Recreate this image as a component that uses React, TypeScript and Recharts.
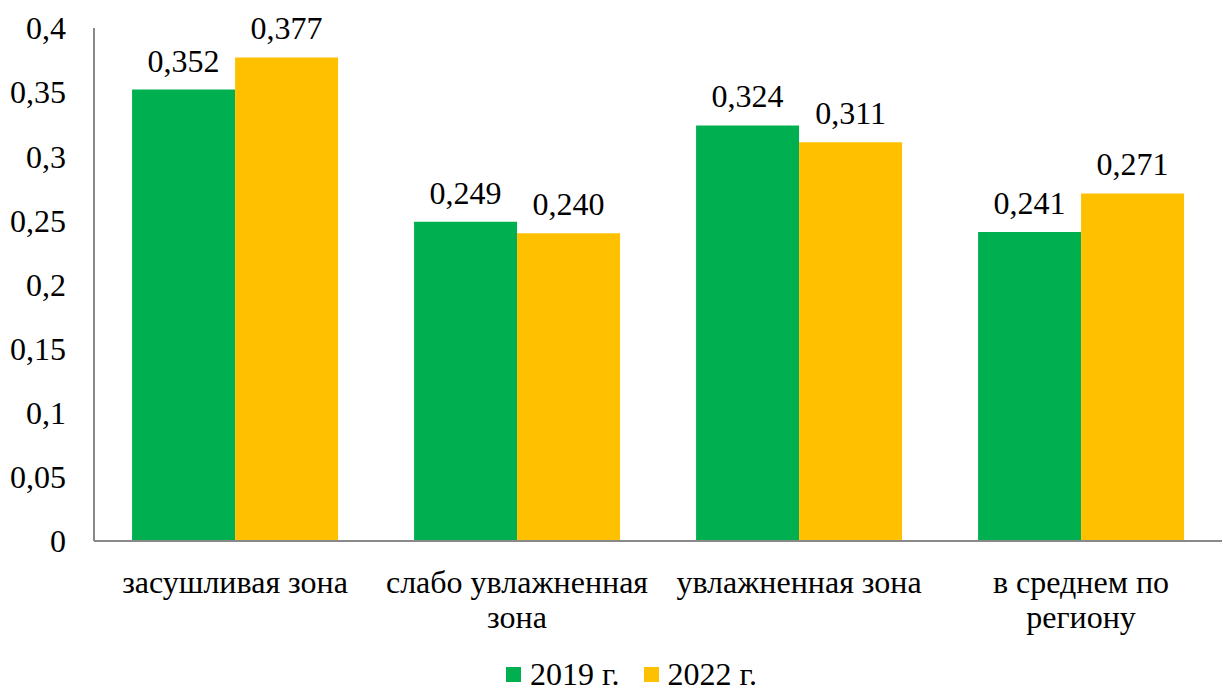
import React from 'react';
import { BarChart, Bar, XAxis, YAxis, Legend, LabelList } from 'recharts';

const categories = ['засушливая зона', 'слабо увлажненная\nзона', 'увлажненная зона', 'в среднем по\nрегиону'];
const values2019 = [0.352, 0.249, 0.324, 0.241];
const values2022 = [0.377, 0.24, 0.311, 0.271];
const yTicks = [0, 0.05, 0.1, 0.15, 0.2, 0.25, 0.3, 0.35, 0.4];

const data = categories.map((name, i) => ({ name, y2019: values2019[i], y2022: values2022[i] }));

const GREEN = '#00B050';
const YELLOW = '#FFC000';
const FONT = 'Liberation Serif, DejaVu Serif, serif';

const fmtTick = (v: number) => String(v).replace('.', ',');
const fmtLabel = (v: any) => Number(v).toFixed(3).replace('.', ',');

const CategoryTick = (props: any) => {
  const { x, y, payload } = props;
  const lines = String(payload.value).split('\n');
  return (
    <g transform={`translate(${x},${y})`}>
      {lines.map((line, i) => (
        <text key={i} x={0} y={44 + i * 35} textAnchor="middle" style={{ fontFamily: FONT, fontSize: 32 }} fill="#000">
          {line}
        </text>
      ))}
    </g>
  );
};

const LegendContent = () => (
  <div style={{ display: 'flex', justifyContent: 'center', fontFamily: FONT, fontSize: 32, lineHeight: '28px', height: 28, color: '#000', transform: 'translateX(20px)' }}>
    {[['2019 г.', GREEN], ['2022 г.', YELLOW]].map(([label, color]) => (
      <div key={label} style={{ display: 'flex', alignItems: 'center', margin: '0 12px' }}>
        <span style={{ display: 'inline-block', width: 15, height: 15, background: color, marginRight: 9 }} />
        <span>{label}</span>
      </div>
    ))}
  </div>
);

export default function App() {
  return (
    <div style={{ position: 'absolute', left: 0, top: 0, width: 1223, height: 690, background: '#fff' }}>
      <BarChart
        width={1223}
        height={690}
        data={data}
        margin={{ top: 28, right: 1, left: 0, bottom: 0 }}
        barCategoryGap="13.5%"
        barGap={0}
      >
        <XAxis
          dataKey="name"
          axisLine={{ stroke: '#898989', strokeWidth: 2 }}
          tickLine={false}
          tick={<CategoryTick />}
          height={121}
          interval={0}
        />
        <YAxis
          domain={[0, 0.4]}
          ticks={yTicks}
          tickFormatter={fmtTick}
          axisLine={{ stroke: '#898989', strokeWidth: 2 }}
          tickLine={false}
          tickSize={0}
          tickMargin={28}
          width={94}
          tick={{ fontFamily: FONT, fontSize: 32, fill: '#000' }}
          interval={0}
        />
        <Legend
          verticalAlign="bottom"
          content={<LegendContent />}
          wrapperStyle={{ left: 0, width: 1223, top: 660 }}
        />
        <Bar dataKey="y2019" fill={GREEN} isAnimationActive={false}>
          <LabelList dataKey="y2019" position="top" offset={18} formatter={fmtLabel} style={{ fontFamily: FONT, fontSize: 32, fill: '#000' }} />
        </Bar>
        <Bar dataKey="y2022" fill={YELLOW} isAnimationActive={false}>
          <LabelList dataKey="y2022" position="top" offset={18} formatter={fmtLabel} style={{ fontFamily: FONT, fontSize: 32, fill: '#000' }} />
        </Bar>
      </BarChart>
    </div>
  );
}
